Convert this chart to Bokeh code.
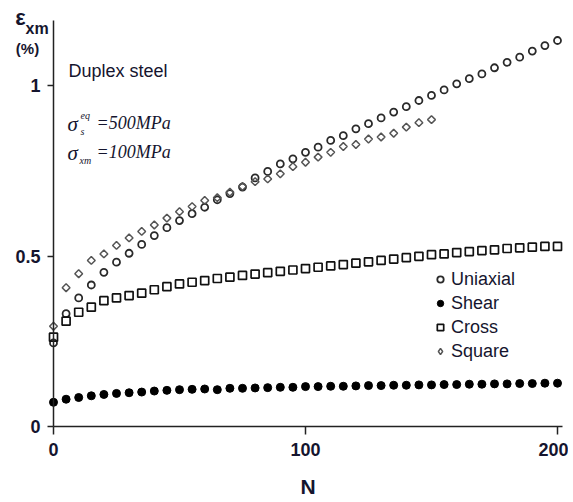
import numpy as np
from bokeh.plotting import figure
from bokeh.models import (ColumnDataSource, Range1d, FixedTicker, Label, Legend, LegendItem)
from bokeh.embed import file_html
from bokeh.resources import INLINE

# ---- data ----
N_full = list(range(0, 205, 5))          # 0..200 step 5
N_square = list(range(0, 155, 5))        # 0..150 step 5

uniaxial = [0.245, 0.331, 0.377, 0.415, 0.452, 0.482, 0.508, 0.534, 0.560, 0.583,
            0.604, 0.624, 0.643, 0.665, 0.683, 0.702, 0.729, 0.748, 0.770, 0.785,
            0.804, 0.819, 0.839, 0.853, 0.873, 0.888, 0.905, 0.922, 0.938, 0.956,
            0.971, 0.987, 1.005, 1.020, 1.034, 1.052, 1.068, 1.083, 1.101, 1.117,
            1.132]
shear = [0.071, 0.080, 0.085, 0.090, 0.094, 0.097, 0.099, 0.101, 0.104, 0.106,
         0.108, 0.109, 0.110, 0.108, 0.112, 0.112, 0.113, 0.114, 0.115, 0.115,
         0.117, 0.117, 0.118, 0.118, 0.119, 0.120, 0.120, 0.121, 0.121, 0.122,
         0.122, 0.123, 0.123, 0.124, 0.124, 0.125, 0.125, 0.126, 0.126, 0.127,
         0.127]
cross = [0.262, 0.309, 0.335, 0.350, 0.369, 0.377, 0.384, 0.391, 0.401, 0.410,
         0.418, 0.423, 0.428, 0.434, 0.438, 0.443, 0.447, 0.451, 0.455, 0.459,
         0.463, 0.467, 0.471, 0.475, 0.479, 0.483, 0.487, 0.491, 0.495, 0.499,
         0.504, 0.506, 0.510, 0.513, 0.516, 0.518, 0.522, 0.524, 0.526, 0.528,
         0.528]
square = [0.294, 0.407, 0.448, 0.487, 0.506, 0.531, 0.553, 0.572, 0.591, 0.611,
          0.630, 0.645, 0.663, 0.671, 0.687, 0.704, 0.718, 0.726, 0.741, 0.762,
          0.775, 0.790, 0.804, 0.821, 0.827, 0.843, 0.849, 0.860, 0.878, 0.891,
          0.900]

x_ticks = [0, 100, 200]
y_ticks = [0, 0.5, 1]
y_tick_labels = {0: "0", 0.5: "0.5", 1: "1"}

TXT = "#15152e"
SANS = "Liberation Sans"
SERIF = "Liberation Serif"

# pixel scale: 2.52 px per cycle, 341 px per percent; data origin at (53, 426)
XS, YS = 2.52, 341.0
X0, Y0 = 53, 426
W, H = 568, 496
FL, FR, FT, FB = 2, 568, 2, 494   # frame edges in pixels

p = figure(frame_width=FR - FL, frame_height=FB - FT, width=W, height=H,
           output_backend="svg", toolbar_location=None,
           x_range=Range1d(-(X0 - FL) / XS, (FR - X0) / XS),
           y_range=Range1d(-(FB - Y0) / YS, (Y0 - FT) / YS),
           min_border_left=FL, min_border_right=W - FR, min_border_top=FT,
           min_border_bottom=H - FB)
p.outline_line_color = None
p.xgrid.visible = False
p.ygrid.visible = False
p.background_fill_color = "white"
p.border_fill_color = "white"

for ax in (p.xaxis[0], p.yaxis[0]):
    ax.axis_line_color = "#222222"
    ax.axis_line_width = 1.5
    ax.major_tick_line_color = "#222222"
    ax.major_tick_line_width = 1.5
    ax.minor_tick_line_color = None
    ax.major_tick_in = 0
    ax.major_label_text_font = SANS
    ax.major_label_text_font_style = "bold"
    ax.major_label_text_font_size = "18px"
    ax.major_label_text_color = TXT

p.xaxis.ticker = FixedTicker(ticks=x_ticks)
p.xaxis.fixed_location = 0
p.xaxis.bounds = (0, 202)
p.xaxis.major_tick_out = 8
p.xaxis.major_label_standoff = 8
p.xaxis.axis_label = "N"
p.xaxis.axis_label_text_font = SANS
p.xaxis.axis_label_text_font_style = "bold"
p.xaxis.axis_label_text_font_size = "21px"
p.xaxis.axis_label_text_color = TXT
p.xaxis.axis_label_standoff = 16

p.yaxis.ticker = FixedTicker(ticks=y_ticks)
p.yaxis.major_label_overrides = y_tick_labels
p.yaxis.fixed_location = 0
p.yaxis.bounds = (0, (Y0 - 20) / YS)
p.yaxis.major_tick_out = 6
p.yaxis.major_label_standoff = 7

src_full = ColumnDataSource(dict(N=N_full, uni=uniaxial, sh=shear, cr=cross))
src_sq = ColumnDataSource(dict(N=N_square, sq=square))

r_uni = p.scatter("N", "uni", source=src_full, marker="circle", size=7,
                  fill_color="white", fill_alpha=0, line_color="#2a2a2a", line_width=1.8)
r_sh = p.scatter("N", "sh", source=src_full, marker="circle", size=8,
                 fill_color="black", line_color="black", line_width=1)
r_cr = p.scatter("N", "cr", source=src_full, marker="square", size=8,
                 fill_color="white", fill_alpha=0, line_color="#111111", line_width=1.7)
r_sq = p.scatter("N", "sq", source=src_sq, marker="square", size=5.5, angle=np.pi / 4,
                 fill_color="white", fill_alpha=0, line_color="#555555", line_width=1.5)
# hidden renderer that only supplies the legend swatch (a diamond) for this series
r_sq_key = p.scatter("N", "sq", source=src_sq, marker="diamond", size=9,
                     fill_color="white", fill_alpha=0, line_color="#555555",
                     line_width=1.5, visible=False)

legend = Legend(items=[LegendItem(label="Uniaxial", renderers=[r_uni]),
                       LegendItem(label="Shear", renderers=[r_sh]),
                       LegendItem(label="Cross", renderers=[r_cr]),
                       LegendItem(label="Square", renderers=[r_sq_key])],
                location=(432 - FL, FB - 363), orientation="vertical")
legend.border_line_color = None
legend.background_fill_alpha = 0
legend.inactive_fill_alpha = 0
legend.padding = 0
legend.margin = 0
legend.spacing = 0
legend.glyph_width = 16
legend.glyph_height = 24
legend.label_height = 24
legend.label_standoff = 3
legend.label_text_font = SANS
legend.label_text_font_size = "18px"
legend.label_text_color = TXT
p.add_layout(legend, "center")


def dx(px):
    return (px - X0) / XS


def dy(py):
    return (Y0 - py) / YS


def lab(text, px, py, size, font=SANS, style="normal", align="left"):
    p.add_layout(Label(x=dx(px), y=dy(py), text=text, text_font=font,
                       text_font_style=style, text_font_size=size, text_color=TXT,
                       text_align=align, text_baseline="middle"))


lab("ε", 20, 17, "22px", style="bold", align="center")
lab("xm", 25, 28, "16px", style="bold")
lab("(%)", 27, 48, "15px", style="bold", align="center")
lab("Duplex steel", 68, 70, "18px")

lab("σ", 67, 123, "21px", font=SERIF, style="italic")
lab("eq", 80, 115, "10px", font=SERIF, style="italic")
lab("s", 80, 131, "10px", font=SERIF, style="italic")
lab("=500MPa", 96, 122, "18px", font=SERIF, style="italic")

lab("σ", 67, 152, "21px", font=SERIF, style="italic")
lab("xm", 79, 160, "10px", font=SERIF, style="italic")
lab("=100MPa", 96, 151, "18px", font=SERIF, style="italic")

open("out.html", "w").write(file_html(p, INLINE))
